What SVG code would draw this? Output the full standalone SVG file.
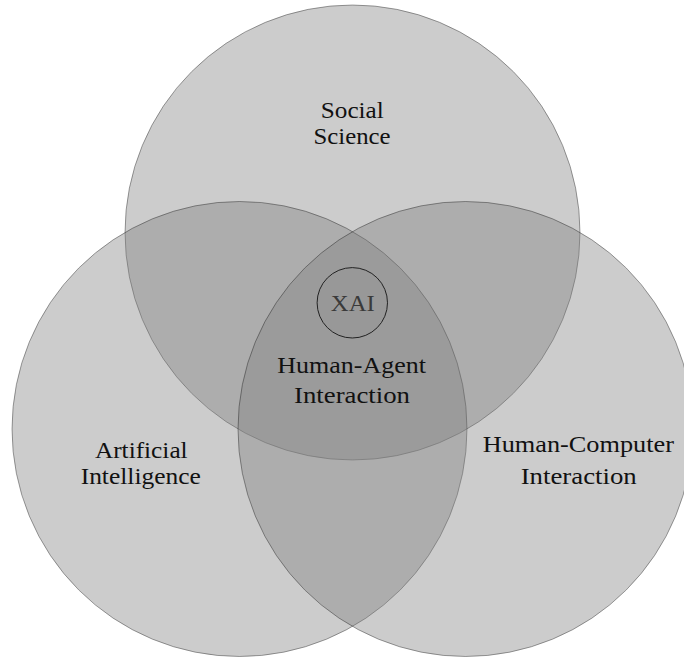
<svg xmlns="http://www.w3.org/2000/svg" width="684" height="657" viewBox="0 0 684 657">
<style>
.set{fill:#808080;fill-opacity:0.4;stroke:#000;stroke-opacity:0.4;stroke-width:0.9}
.lbl{font-family:"Liberation Serif","Times New Roman",serif;font-size:24px;fill:#111;text-anchor:middle}
</style>
<rect width="684" height="657" fill="#fff"/>
<g id="social-science">
<circle class="set" cx="352.5" cy="232.5" r="227.5"/>
</g>
<g id="artificial-intelligence">
<circle class="set" cx="239.5" cy="429" r="227.5"/>
</g>
<g id="human-computer-interaction">
<circle class="set" cx="465.5" cy="429" r="227.5"/>
</g>
<g id="xai">
<circle cx="352.3" cy="302.8" r="35.2" fill="#808080" fill-opacity="0.12" stroke="#222" stroke-width="1"/>
<text class="lbl" x="352.8" y="310.7" textLength="44" lengthAdjust="spacingAndGlyphs" style="fill:#3a3a3a">XAI</text>
</g>
<g id="labels">
<text class="lbl" x="352.3" y="118.3" textLength="63" lengthAdjust="spacingAndGlyphs">Social</text>
<text class="lbl" x="352" y="144" textLength="77" lengthAdjust="spacingAndGlyphs">Science</text>
<text class="lbl" x="351.7" y="373.3" textLength="148.7" lengthAdjust="spacingAndGlyphs">Human-Agent</text>
<text class="lbl" x="352" y="403.3" textLength="116" lengthAdjust="spacingAndGlyphs">Interaction</text>
<text class="lbl" x="141.3" y="458.3" textLength="92.7" lengthAdjust="spacingAndGlyphs">Artificial</text>
<text class="lbl" x="140.8" y="484.3" textLength="120.3" lengthAdjust="spacingAndGlyphs">Intelligence</text>
<text class="lbl" x="578.3" y="452.3" textLength="191.3" lengthAdjust="spacingAndGlyphs">Human-Computer</text>
<text class="lbl" x="578.7" y="484" textLength="116" lengthAdjust="spacingAndGlyphs">Interaction</text>
</g>
<g id="connectors"></g>
</svg>
